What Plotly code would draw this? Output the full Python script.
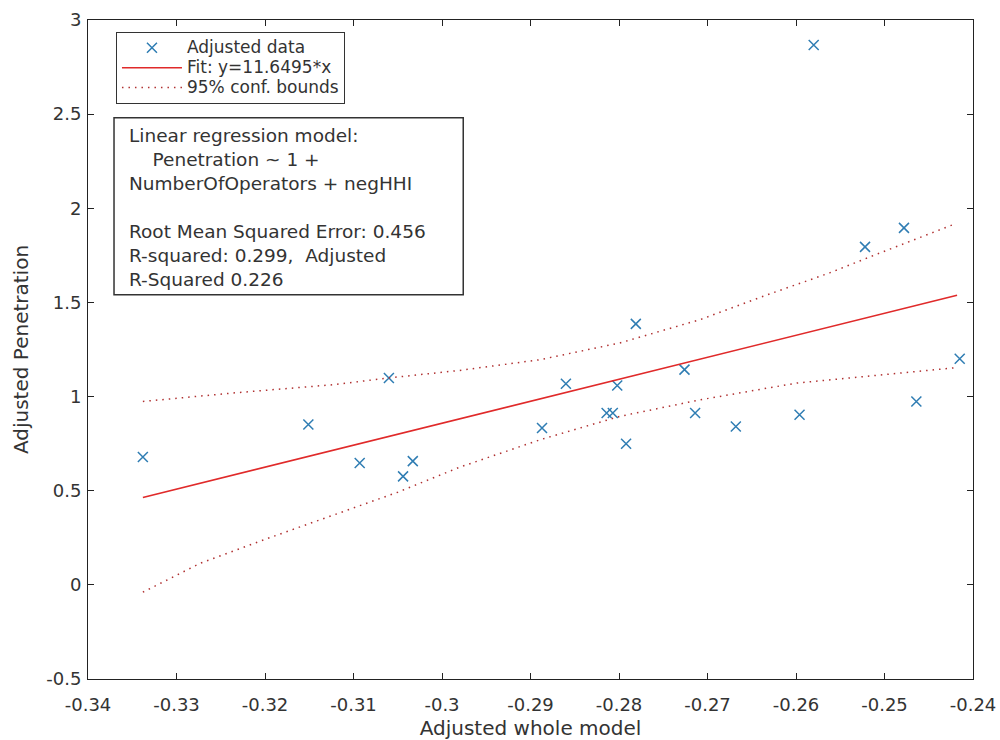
import plotly.graph_objects as go

# ---- data ----
x_data = [-0.3338, -0.3151, -0.3093, -0.3060, -0.3044, -0.3033, -0.2887, -0.2860,
          -0.2814, -0.2807, -0.2802, -0.2792, -0.2781, -0.2726, -0.2714, -0.2668,
          -0.2596, -0.2580, -0.2522, -0.2478, -0.2464, -0.2415]
y_data = [0.679, 0.852, 0.647, 1.099, 0.576, 0.657, 0.833, 1.068,
          0.9125, 0.9125, 1.059, 0.749, 1.386, 1.143, 0.9125, 0.841,
          0.9035, 2.867, 1.795, 1.896, 0.974, 1.201]

fit_x = [-0.3338, -0.2418]
fit_y = [0.464, 1.538]

upper_x = [-0.3338, -0.3236, -0.3123, -0.3060, -0.2980, -0.2889, -0.2799, -0.2708,
           -0.2637, -0.2562, -0.2505, -0.2422]
upper_y = [0.974, 1.019, 1.063, 1.099, 1.139, 1.196, 1.285, 1.409,
           1.533, 1.657, 1.763, 1.914]

lower_x = [-0.3338, -0.3273, -0.3198, -0.3123, -0.3050, -0.2980, -0.2889, -0.2799,
           -0.2708, -0.2599, -0.2524, -0.2422]
lower_y = [-0.039, 0.115, 0.245, 0.370, 0.492, 0.625, 0.771, 0.895,
           0.983, 1.072, 1.107, 1.152]

x_tick_vals = [-0.34, -0.33, -0.32, -0.31, -0.30, -0.29, -0.28, -0.27, -0.26, -0.25, -0.24]
x_tick_text = ["-0.34", "-0.33", "-0.32", "-0.31", "-0.3", "-0.29", "-0.28", "-0.27",
               "-0.26", "-0.25", "-0.24"]
y_tick_vals = [-0.5, 0, 0.5, 1, 1.5, 2, 2.5, 3]
y_tick_text = ["-0.5", "0", "0.5", "1", "1.5", "2", "2.5", "3"]

legend_names = ["Adjusted data", "Fit: y=11.6495*x", "95% conf. bounds"]
stats_lines = [
    "Linear regression model:",
    "\u00a0\u00a0\u00a0\u00a0Penetration ~ 1 +",
    "NumberOfOperators + negHHI",
    "",
    "Root Mean Squared Error: 0.456",
    "R-squared: 0.299,\u00a0\u00a0Adjusted",
    "R-Squared 0.226",
]

MARKER_BLUE = "#2f7db3"
FIT_RED = "#e02a2a"
DOT_RED = "#b03030"
FONT = "DejaVu Sans"
TEXT = "#333333"


def legend_label(s):
    return '<span style="font-size:17px">' + s + "</span>"


fig = go.Figure()
fig.add_trace(go.Scatter(
    x=x_data, y=y_data, mode="markers", name=legend_label(legend_names[0]),
    marker=dict(symbol="x-thin", size=10, line=dict(width=1.5, color=MARKER_BLUE),
                color=MARKER_BLUE),
))
fig.add_trace(go.Scatter(
    x=fit_x, y=fit_y, mode="lines", name=legend_label(legend_names[1]),
    line=dict(color=FIT_RED, width=1.6),
))
fig.add_trace(go.Scatter(
    x=upper_x, y=upper_y, mode="lines", name=legend_label(legend_names[2]),
    line=dict(color=DOT_RED, width=1.5, dash="1.5px,5px"),
))
fig.add_trace(go.Scatter(
    x=lower_x, y=lower_y, mode="lines", name=legend_label(legend_names[2]),
    showlegend=False,
    line=dict(color=DOT_RED, width=1.5, dash="1.5px,5px"),
))

axis_common = dict(
    showgrid=False, zeroline=False, showline=True, linecolor="#222222", linewidth=1,
    mirror="ticks", ticks="inside", ticklen=6, tickcolor="#222222", tickwidth=1,
    tickfont=dict(family=FONT, size=18, color=TEXT), automargin=False,
)

fig.update_layout(
    width=1000, height=740,
    margin=dict(l=88, r=27, t=20, b=61),
    plot_bgcolor="white", paper_bgcolor="white",
    font=dict(family=FONT, color=TEXT),
    xaxis=dict(range=[-0.34, -0.24], tickvals=x_tick_vals, ticktext=x_tick_text,
               ticklabelstandoff=9,
               title=dict(text="Adjusted whole model", font=dict(size=20, color=TEXT),
                          standoff=7),
               **axis_common),
    yaxis=dict(range=[-0.5, 3], tickvals=y_tick_vals, ticktext=y_tick_text,
               ticklabelstandoff=2,
               title=dict(text="Adjusted Penetration", font=dict(size=20, color=TEXT),
                          standoff=12),
               **axis_common),
    legend=dict(x=0.0316, y=0.982, xanchor="left", yanchor="top",
                bgcolor="white", bordercolor="#333333", borderwidth=1,
                font=dict(family=FONT, size=13, color=TEXT), itemwidth=60,
                tracegroupgap=0),
    showlegend=True,
)

# text box (MATLAB annotation)
fig.add_shape(type="rect", xref="paper", yref="paper",
              x0=0.0294, x1=0.424, y0=0.583, y1=0.8515,
              line=dict(color="#333333", width=1.5), fillcolor="rgba(0,0,0,0)")
fig.add_annotation(xref="paper", yref="paper", x=0.0437, y=0.843,
                   xanchor="left", yanchor="top", align="left", showarrow=False,
                   text="<br>".join(stats_lines),
                   font=dict(family=FONT, size=18.5, color=TEXT))

fig.write_html("out.html")
